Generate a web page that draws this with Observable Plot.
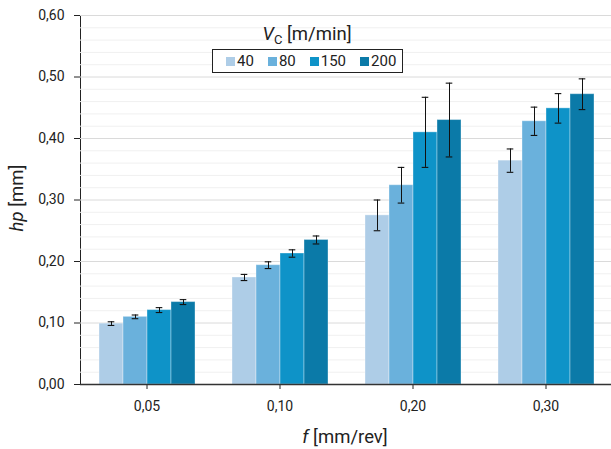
<!DOCTYPE html>
<html>
<head>
<meta charset="utf-8">
<script src="https://cdn.jsdelivr.net/npm/d3@7"></script>
<script src="https://cdn.jsdelivr.net/npm/@observablehq/plot@0.6"></script>
<style>
  html, body { margin: 0; padding: 0; background: #fff; }
  #wrap { position: relative; width: 611px; height: 449px; font-family: Roboto, "Liberation Sans", sans-serif; color: #222; overflow: hidden; }
  #wrap svg [aria-label="y-axis tick"] { stroke: #888; }
  #wrap svg [aria-label="fx-axis tick"] { stroke: #888; }
  #wrap svg [aria-label="y-axis tick label"], #wrap svg [aria-label="fx-axis tick label"] { fill: #222; }
  .ytitle { position: absolute; left: 17px; top: 198px; transform: translate(-50%, -50%) rotate(-90deg); font-size: 18.5px; white-space: nowrap; }
  .xtitle { position: absolute; left: 345px; top: 437px; transform: translate(-50%, -50%); font-size: 18.5px; white-space: nowrap; }
  .ltitle { position: absolute; left: 307px; top: 34px; transform: translate(-50%, -50%); font-size: 18.5px; white-space: nowrap; }
  .ltitle sub { font-size: 13px; vertical-align: -4px; line-height: 0; }
  #legbox { position: absolute; left: 212px; top: 49px; width: 176px; height: 22px; padding-left: 13px; border: 1px solid #222; background: #fff; box-sizing: content-box; display: flex; align-items: center; font-size: 15px; }
  .item { display: inline-flex; align-items: center; margin-right: 14px; }
  .sw { width: 9px; height: 9px; margin-right: 2px; }
</style>
</head>
<body>
<div id="wrap">
  <div id="chart"></div>
  <div class="ytitle"><i>hp</i> [mm]</div>
  <div class="xtitle"><i>f</i> [mm/rev]</div>
  <div class="ltitle"><i>V</i><sub>C</sub> [m/min]</div>
  <div id="legbox"></div>
</div>
<script>
const categories = ["0,05", "0,10", "0,20", "0,30"];
const series = ["40", "80", "150", "200"];
const colors = ["#aecde7", "#6ab1dc", "#0e93c8", "#0b7aa8"];

const hp40  = [0.099, 0.174, 0.275, 0.364];
const hp80  = [0.110, 0.194, 0.324, 0.428];
const hp150 = [0.121, 0.213, 0.410, 0.449];
const hp200 = [0.134, 0.235, 0.430, 0.472];

const err40  = [0.003, 0.005, 0.025, 0.019];
const err80  = [0.003, 0.0055, 0.029, 0.023];
const err150 = [0.004, 0.006, 0.057, 0.024];
const err200 = [0.004, 0.0065, 0.060, 0.025];

const majorTicks = [0, 0.1, 0.2, 0.3, 0.4, 0.5, 0.6];
const minorTicks = [0.02, 0.04, 0.06, 0.08, 0.12, 0.14, 0.16, 0.18, 0.22, 0.24, 0.26, 0.28,
                    0.32, 0.34, 0.36, 0.38, 0.42, 0.44, 0.46, 0.48, 0.52, 0.54, 0.56, 0.58];

const values = [hp40, hp80, hp150, hp200];
const errors = [err40, err80, err150, err200];
const rows = categories.flatMap((c, i) => series.map((s, j) => ({
  cat: c, series: s, value: values[j][i],
  lo: values[j][i] - errors[j][i], hi: values[j][i] + errors[j][i]
})));

const chart = Plot.plot({
  width: 611,
  height: 449,
  marginLeft: 78,
  marginRight: 0,
  marginTop: 15,
  marginBottom: 65,
  style: { fontFamily: "Roboto, 'Liberation Sans', sans-serif", fontSize: "14px", background: "#fff", overflow: "visible" },
  fx: { domain: categories, range: [78, 613], paddingInner: 0, paddingOuter: 0, axis: "bottom", label: null, tickSize: 5, tickPadding: 12 },
  x: { domain: series, paddingInner: 0, paddingOuter: 0.74, axis: null },
  y: { domain: [0, 0.6], ticks: majorTicks, tickFormat: d => d.toFixed(2).replace(".", ","), tickSize: 6, tickPadding: 10, label: null, line: true },
  color: { domain: series, range: colors },
  marks: [
    Plot.ruleY(minorTicks, { stroke: "#f0f0f0" }),
    Plot.ruleY(majorTicks.filter(d => d > 0), { stroke: "#dadada" }),
    Plot.barY(rows, { fx: "cat", x: "series", y: "value", fill: "series", stroke: "#fff", strokeOpacity: 0.35, strokeWidth: 1 }),
    Plot.ruleX(rows, { fx: "cat", x: "series", y1: "lo", y2: "hi", stroke: "#111", strokeWidth: 1 }),
    Plot.tickY(rows, { fx: "cat", x: "series", y: "lo", stroke: "#111", strokeWidth: 1.1, insetLeft: 8.7, insetRight: 8.7 }),
    Plot.tickY(rows, { fx: "cat", x: "series", y: "hi", stroke: "#111", strokeWidth: 1.1, insetLeft: 8.7, insetRight: 8.7 }),
    Plot.ruleY([0], { stroke: "#333", strokeWidth: 1.5 })
  ]
});
document.getElementById("chart").appendChild(chart);

// legend built from the same series / colour arrays via the chart's colour scale
const colorScale = chart.scale("color");
const legbox = document.getElementById("legbox");
series.forEach(s => {
  const item = document.createElement("span");
  item.className = "item";
  const sw = document.createElement("span");
  sw.className = "sw";
  sw.style.background = colorScale.apply(s);
  item.appendChild(sw);
  item.appendChild(document.createTextNode(s));
  legbox.appendChild(item);
});
</script>
</body>
</html>
